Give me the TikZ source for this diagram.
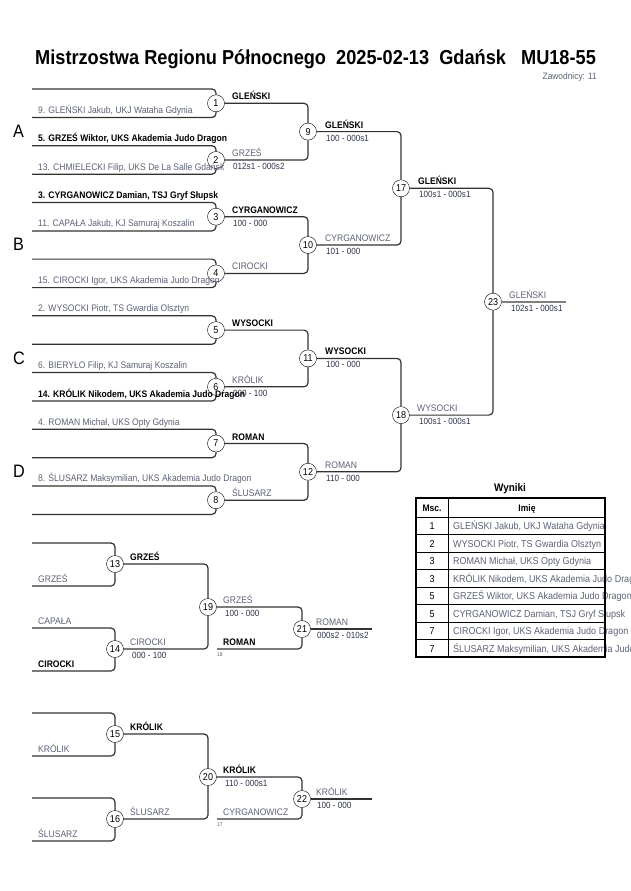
\documentclass[tikz,border=0pt]{standalone}
\usepackage{fontspec}
\setmainfont{Liberation Sans}[FakeStretch=0.9]
\usetikzlibrary{positioning}
\definecolor{linegray}{RGB}{50,50,50}
\definecolor{namegray}{RGB}{92,98,118}
\definecolor{scoreblue}{RGB}{45,50,72}

\begin{document}
\begin{tikzpicture}[x=1pt, y=-1pt,
    fight/.style={circle, draw, fill=white, minimum size=17pt, inner sep=0pt, font=\fontsize{10}{10}\selectfont},
    br/.style={draw=linegray, line width=1.2pt, rounded corners=4pt},
    lbl/.style={anchor=base west, inner sep=0pt, text=namegray, font=\fontsize{9.5}{11}\selectfont},
    win/.style={lbl, text=black, font=\fontsize{9.5}{11}\selectfont\bfseries},
    score/.style={lbl, text=scoreblue, font=\fontsize{9}{10}\selectfont},
    pool/.style={anchor=base west, inner sep=0pt, font=\fontsize{18}{18}\selectfont},
    cell/.style={anchor=base, inner sep=0pt, font=\fontsize{10}{11}\selectfont}]
	\useasboundingbox (0,0) rectangle (630,891);

	% header
	\node[anchor=base west, inner sep=0pt, font=\fontsize{20.2}{21}\selectfont\bfseries] (title) at (35,64) {Mistrzostwa Regionu Północnego~~2025-02-13~~Gdańsk~~~MU18-55};
	\node[anchor=base east, inner sep=0pt, text=namegray, font=\fontsize{9.3}{10}\selectfont] (count) at (597,80) {Zawodnicy: 11};

	% pools
	\node[pool] (poolA) at (13,137) {A};
	\node[pool] (poolB) at (13,250) {B};
	\node[pool] (poolC) at (13,364) {C};
	\node[pool] (poolD) at (13,477) {D};

	% fights, main bracket
	\node[fight] (m1) at (216,103.3) {1};
	\node[fight] (m2) at (216,160) {2};
	\node[fight] (m3) at (216,216.7) {3};
	\node[fight] (m4) at (216,273.4) {4};
	\node[fight] (m5) at (216,330.1) {5};
	\node[fight] (m6) at (216,386.8) {6};
	\node[fight] (m7) at (216,443.5) {7};
	\node[fight] (m8) at (216,500.2) {8};
	\node[fight] (m9) at (308,131.6) {9};
	\node[fight] (m10) at (308,245) {10};
	\node[fight] (m11) at (308,358.4) {11};
	\node[fight] (m12) at (308,471.8) {12};
	\node[fight] (m17) at (401,188.3) {17};
	\node[fight] (m18) at (401,415.1) {18};
	\node[fight] (m23) at (493,301.7) {23};

	% entry ends
	\coordinate (e1t) at (32,89);    \coordinate (e1b) at (32,117.5);
	\coordinate (e2t) at (32,145.7); \coordinate (e2b) at (32,174.2);
	\coordinate (e3t) at (32,202.4); \coordinate (e3b) at (32,230.9);
	\coordinate (e4t) at (32,259.1); \coordinate (e4b) at (32,287.6);
	\coordinate (e5t) at (32,315.8); \coordinate (e5b) at (32,344.3);
	\coordinate (e6t) at (32,372.5); \coordinate (e6b) at (32,401);
	\coordinate (e7t) at (32,429.2); \coordinate (e7b) at (32,457.7);
	\coordinate (e8t) at (32,485.9); \coordinate (e8b) at (32,514.4);
	\coordinate (fin) at (566,301.7);

	\draw[br] (e1t) -| (m1); \draw[br] (e1b) -| (m1);
	\draw[br] (e2t) -| (m2); \draw[br] (e2b) -| (m2);
	\draw[br] (e3t) -| (m3); \draw[br] (e3b) -| (m3);
	\draw[br] (e4t) -| (m4); \draw[br] (e4b) -| (m4);
	\draw[br] (e5t) -| (m5); \draw[br] (e5b) -| (m5);
	\draw[br] (e6t) -| (m6); \draw[br] (e6b) -| (m6);
	\draw[br] (e7t) -| (m7); \draw[br] (e7b) -| (m7);
	\draw[br] (e8t) -| (m8); \draw[br] (e8b) -| (m8);

	\draw[br] (m1) -| (m9);   \draw[br] (m2) -| (m9);
	\draw[br] (m3) -| (m10);  \draw[br] (m4) -| (m10);
	\draw[br] (m5) -| (m11);  \draw[br] (m6) -| (m11);
	\draw[br] (m7) -| (m12);  \draw[br] (m8) -| (m12);
	\draw[br] (m9) -| (m17);  \draw[br] (m10) -| (m17);
	\draw[br] (m11) -| (m18); \draw[br] (m12) -| (m18);
	\draw[br] (m17) -| (m23); \draw[br] (m18) -| (m23);
	\draw[br, draw=gray, line width=1.6pt] (m23) -- (fin);

	% competitors
	\node[lbl] (p9) at (38,113.5) {9. GLEŃSKI Jakub, UKJ Wataha Gdynia};
	\node[win] (p5) at (38,141.7) {5. GRZEŚ Wiktor, UKS Akademia Judo Dragon};
	\node[lbl] (p13) at (38,170.2) {13. CHMIELECKI Filip, UKS De La Salle Gdańsk};
	\node[win] (p3) at (38,198.4) {3. CYRGANOWICZ Damian, TSJ Gryf Słupsk};
	\node[lbl] (p11) at (38,226.9) {11. CAPAŁA Jakub, KJ Samuraj Koszalin};
	\node[lbl] (p15) at (38,283.6) {15. CIROCKI Igor, UKS Akademia Judo Dragon};
	\node[lbl] (p2) at (38,311.8) {2. WYSOCKI Piotr, TS Gwardia Olsztyn};
	\node[lbl] (p6) at (38,368.5) {6. BIERYŁO Filip, KJ Samuraj Koszalin};
	\node[win] (p14) at (38,397) {14. KRÓLIK Nikodem, UKS Akademia Judo Dragon};
	\node[lbl] (p4) at (38,425.2) {4. ROMAN Michał, UKS Opty Gdynia};
	\node[lbl] (p8) at (38,481.9) {8. ŚLUSARZ Maksymilian, UKS Akademia Judo Dragon};

	% results of the rounds
	\node[win] (r1) at (232,99.8) {GLEŃSKI};
	\node[lbl] (r2) at (232,156.5) {GRZEŚ};
	\node[score] (s2) at (233,169.5) {012s1 - 000s2};
	\node[win] (r3) at (232,213.2) {CYRGANOWICZ};
	\node[score] (s3) at (233,226.2) {100 - 000};
	\node[lbl] (r4) at (232,269.9) {CIROCKI};
	\node[win] (r5) at (232,326.6) {WYSOCKI};
	\node[lbl] (r6) at (232,383.3) {KRÓLIK};
	\node[score] (s6) at (233,396.3) {000 - 100};
	\node[win] (r7) at (232,440) {ROMAN};
	\node[lbl] (r8) at (232,496.7) {ŚLUSARZ};
	\node[win] (r9) at (325,128.1) {GLEŃSKI};
	\node[score] (s9) at (326,141.1) {100 - 000s1};
	\node[lbl] (r10) at (325,241.5) {CYRGANOWICZ};
	\node[score] (s10) at (326,254.5) {101 - 000};
	\node[win] (r11) at (325,354.9) {WYSOCKI};
	\node[score] (s11) at (326,367.9) {100 - 000};
	\node[lbl] (r12) at (325,468.3) {ROMAN};
	\node[score] (s12) at (326,481.3) {110 - 000};
	\node[win] (r17) at (418,184.8) {GLEŃSKI};
	\node[score] (s17) at (419,197.8) {100s1 - 000s1};
	\node[lbl] (r18) at (417,411.6) {WYSOCKI};
	\node[score] (s18) at (419,424.6) {100s1 - 000s1};
	\node[lbl] (r23) at (509,298.2) {GLEŃSKI};
	\node[score] (s23) at (511,311.2) {102s1 - 000s1};

	% repechage
	\node[fight] (m13) at (115,564) {13};
	\node[fight] (m14) at (115,649) {14};
	\node[fight] (m19) at (208,607) {19};
	\node[fight] (m21) at (302,629) {21};
	\node[fight] (m15) at (115,734) {15};
	\node[fight] (m16) at (115,819) {16};
	\node[fight] (m20) at (208,777) {20};
	\node[fight] (m22) at (302,799) {22};

	\coordinate (e13t) at (32,543); \coordinate (e13b) at (32,586);
	\coordinate (e14t) at (32,628); \coordinate (e14b) at (32,671);
	\coordinate (e15t) at (32,713); \coordinate (e15b) at (32,756);
	\coordinate (e16t) at (32,798); \coordinate (e16b) at (32,841);
	\coordinate (from18) at (217,649); \coordinate (from17) at (217,819);
	\coordinate (end21) at (372,629);  \coordinate (end22) at (372,799);

	\draw[br] (e13t) -| (m13); \draw[br] (e13b) -| (m13);
	\draw[br] (e14t) -| (m14); \draw[br] (e14b) -| (m14);
	\draw[br] (e15t) -| (m15); \draw[br] (e15b) -| (m15);
	\draw[br] (e16t) -| (m16); \draw[br] (e16b) -| (m16);
	\draw[br] (m13) -| (m19); \draw[br] (m14) -| (m19);
	\draw[br] (m15) -| (m20); \draw[br] (m16) -| (m20);
	\draw[br] (m19) -| (m21); \draw[br] (from18) -| (m21);
	\draw[br] (m20) -| (m22); \draw[br] (from17) -| (m22);
	\draw[br] (m21) -- (end21);
	\draw[br] (m22) -- (end22);

	\node[lbl] (q13) at (38,582) {GRZEŚ};
	\node[lbl] (q14a) at (38,624) {CAPAŁA};
	\node[win] (q14b) at (38,667) {CIROCKI};
	\node[lbl] (q15) at (38,752) {KRÓLIK};
	\node[lbl] (q16) at (38,837) {ŚLUSARZ};
	\node[win] (r13) at (130,560.5) {GRZEŚ};
	\node[lbl] (r14) at (130,645.5) {CIROCKI};
	\node[score] (s14) at (132,658.5) {000 - 100};
	\node[lbl] (r19) at (223,603.5) {GRZEŚ};
	\node[score] (s19) at (225,616.5) {100 - 000};
	\node[win] (r18b) at (223,645.5) {ROMAN};
	\node[anchor=base west, inner sep=0pt, text=namegray, font=\fontsize{5.5}{6}\selectfont] (n18) at (217,656) {18};
	\node[lbl] (r21) at (316,625.5) {ROMAN};
	\node[score] (s21) at (317,638.5) {000s2 - 010s2};
	\node[win] (r15) at (130,730.5) {KRÓLIK};
	\node[lbl] (r16) at (130,815.5) {ŚLUSARZ};
	\node[win] (r20) at (223,773.5) {KRÓLIK};
	\node[score] (s20) at (225,786.5) {110 - 000s1};
	\node[lbl] (r17b) at (223,815.5) {CYRGANOWICZ};
	\node[anchor=base west, inner sep=0pt, text=namegray, font=\fontsize{5.5}{6}\selectfont] (n17) at (217,826) {17};
	\node[lbl] (r22) at (316,795.5) {KRÓLIK};
	\node[score] (s22) at (317,808.5) {100 - 000};

	% results table
	\node[anchor=base, inner sep=0pt, font=\fontsize{11}{12}\selectfont\bfseries] (wyniki) at (510,491) {Wyniki};
	\draw[line width=0.8pt] (416,517) -- (605,517);
	\draw[line width=0.6pt] (416,534.5) -- (605,534.5) (416,552) -- (605,552) (416,569.5) -- (605,569.5)
	  (416,587) -- (605,587) (416,604.5) -- (605,604.5) (416,622) -- (605,622) (416,639.5) -- (605,639.5);
	\draw[line width=0.8pt] (448,498) -- (448,657);
	\node[cell, font=\fontsize{9.5}{10}\selectfont\bfseries] (hmsc) at (432,511.5) {Msc.};
	\node[cell, font=\fontsize{9.5}{10}\selectfont\bfseries] (himie) at (527,511.5) {Imię};
	\node[cell] (k1) at (432,529.5) {1};
	\node[cell] (k2) at (432,547) {2};
	\node[cell] (k3) at (432,564.5) {3};
	\node[cell] (k4) at (432,582) {3};
	\node[cell] (k5) at (432,599.5) {5};
	\node[cell] (k6) at (432,617) {5};
	\node[cell] (k7) at (432,634.5) {7};
	\node[cell] (k8) at (432,652) {7};
	\node[cell, anchor=base west, text=namegray] (c1) at (453,529.5) {GLEŃSKI Jakub, UKJ Wataha Gdynia};
	\node[cell, anchor=base west, text=namegray] (c2) at (453,547) {WYSOCKI Piotr, TS Gwardia Olsztyn};
	\node[cell, anchor=base west, text=namegray] (c3) at (453,564.5) {ROMAN Michał, UKS Opty Gdynia};
	\node[cell, anchor=base west, text=namegray] (c4) at (453,582) {KRÓLIK Nikodem, UKS Akademia Judo Dragon};
	\node[cell, anchor=base west, text=namegray] (c5) at (453,599.5) {GRZEŚ Wiktor, UKS Akademia Judo Dragon};
	\node[cell, anchor=base west, text=namegray] (c6) at (453,617) {CYRGANOWICZ Damian, TSJ Gryf Słupsk};
	\node[cell, anchor=base west, text=namegray] (c7) at (453,634.5) {CIROCKI Igor, UKS Akademia Judo Dragon};
	\node[cell, anchor=base west, text=namegray] (c8) at (453,652) {ŚLUSARZ Maksymilian, UKS Akademia Judo Dragon};
	\draw[line width=1.6pt] (416,498) rectangle (605,657);
\end{tikzpicture}
\end{document}
